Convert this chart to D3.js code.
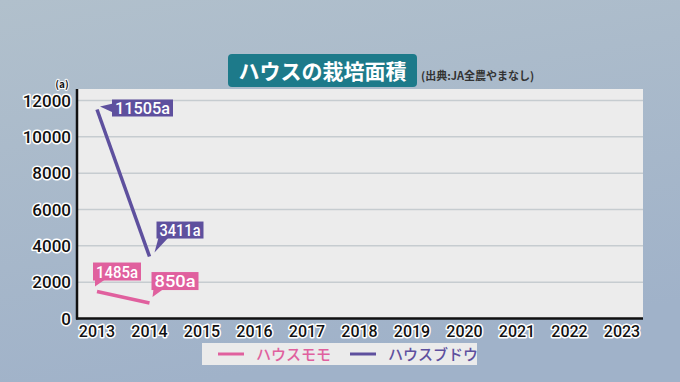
<!DOCTYPE html>
<html><head><meta charset="utf-8">
<script src="https://cdn.jsdelivr.net/npm/d3@7"></script>
<style>body{margin:0;overflow:hidden}svg{display:block}</style>
</head><body><svg id="c" width="680" height="382"></svg>
<script>
const years = [2013,2014,2015,2016,2017,2018,2019,2020,2021,2022,2023];
const yTicks = [0,2000,4000,6000,8000,10000,12000];
const momoYears = [2013,2014];
const momoValues = [1485,850];
const budouYears = [2013,2014];
const budouValues = [11505,3411];
const seriesNames = ["ハウスモモ","ハウスブドウ"];
const seriesColors = ["#e0609e","#5e509e"];
const title = "ハウスの栽培面積";
const source = "(出典:JA全農やまなし)";
const unit = "(a)";

const svg = d3.select("#c");
const defs = svg.append("defs");
const g1 = defs.append("linearGradient").attr("id","bg").attr("x1",0).attr("y1",0).attr("x2",0.3).attr("y2",1);
g1.append("stop").attr("offset","0%").attr("stop-color","#b1c0cc");
g1.append("stop").attr("offset","100%").attr("stop-color","#a0b2c9");
svg.append("rect").attr("width",680).attr("height",382).attr("fill","url(#bg)");

const L=77, R=643, T=89, B=318.5;
const x = d3.scalePoint().domain(years).range([97,622]);
const y = d3.scaleLinear().domain([0,12000]).range([B,100.5]);

svg.append("rect").attr("x",L).attr("y",T).attr("width",R-L).attr("height",B-T).attr("fill","#ececec");
svg.append("g").selectAll("line").data(yTicks.filter(d=>d>0)).join("line")
  .attr("x1",L).attr("x2",R).attr("y1",d=>y(d)).attr("y2",d=>y(d))
  .attr("stroke","#c6ccd0").attr("stroke-width",1.5);

svg.append("line").attr("x1",L).attr("x2",L).attr("y1",T).attr("y2",B+1).attr("stroke","#111").attr("stroke-width",2.5);
svg.append("line").attr("x1",L-1).attr("x2",R).attr("y1",B).attr("y2",B).attr("stroke","#111").attr("stroke-width",2.5);

const outlined = sel => sel.attr("fill","#111").attr("stroke","#fff").attr("stroke-width",3)
  .attr("paint-order","stroke").attr("stroke-linejoin","round");

svg.append("g").selectAll("text").data(yTicks).join("text")
  .attr("x",71).attr("y",d=>y(d)+6).attr("text-anchor","end")
  .attr("font-family","Roboto, 'Liberation Sans', sans-serif").attr("font-weight",500).attr("font-size",17)
  .text(d=>d).call(outlined);
svg.append("g").selectAll("text").data(years).join("text")
  .attr("x",d=>x(d)).attr("y",337).attr("text-anchor","middle")
  .attr("font-family","Roboto, 'Liberation Sans', sans-serif").attr("font-weight",500).attr("font-size",16)
  .text(d=>d).call(outlined);
svg.append("text").attr("x",62).attr("y",88).attr("text-anchor","middle")
  .attr("font-family","'Noto Sans CJK JP', sans-serif").attr("font-size",10).attr("font-weight","bold")
  .text(unit).call(outlined).attr("stroke-width",2);

svg.append("rect").attr("x",228).attr("y",54).attr("width",189).attr("height",33).attr("rx",4).attr("fill","#1d7a8a");
svg.append("text").attr("x",322.5).attr("y",78.5).attr("text-anchor","middle")
  .attr("font-family","'Noto Sans CJK JP', sans-serif").attr("font-weight","bold").attr("font-size",21)
  .attr("fill","#fff").text(title);
svg.append("text").attr("x",421).attr("y",80).attr("font-family","'Noto Sans CJK JP', sans-serif")
  .attr("font-weight","bold").attr("font-size",11).attr("fill","#333").text(source);

const series = [
  {name:seriesNames[0], color:seriesColors[0], pts: momoYears.map((yr,i)=>({yr, v:momoValues[i]}))},
  {name:seriesNames[1], color:seriesColors[1], pts: budouYears.map((yr,i)=>({yr, v:budouValues[i]}))}
];
const line = d3.line().x(d=>x(d.yr)).y(d=>y(d.v));
svg.append("g").selectAll("path").data(series).join("path")
  .attr("d",d=>line(d.pts)).attr("fill","none").attr("stroke",d=>d.color).attr("stroke-width",3.5);

function callout(px,py,color,text,type,bx,by,w,h){
  const g = svg.append("g");
  let tri;
  if(type==="left"){
    tri = [[px,py],[bx+1,by+4],[bx+1,by+h-4]];
  } else {
    tri = [[px,py],[bx+2,by+h-1],[bx+12,by+h-1]];
  }
  g.append("path").attr("d","M"+tri.map(p=>p.join(",")).join("L")+"Z").attr("fill",color);
  g.append("rect").attr("x",bx).attr("y",by).attr("width",w).attr("height",h).attr("fill",color);
  g.append("text").attr("x",bx+w/2).attr("y",by+h/2+6).attr("text-anchor","middle")
    .attr("font-family","Roboto, 'Liberation Sans', sans-serif").attr("font-weight",500).attr("font-size",16.5)
    .attr("textLength",w-6).attr("lengthAdjust","spacingAndGlyphs")
    .attr("fill","#fff").text(text);
}
const b = series[1].pts, m = series[0].pts;
callout(x(b[0].yr)+3, y(b[0].v)-3, seriesColors[1], b[0].v+"a","left", x(b[0].yr)+15, y(b[0].v)-10, 61, 17);
callout(x(b[1].yr)+5, y(b[1].v)-4, seriesColors[1], b[1].v+"a","down", x(b[1].yr)+7, y(b[1].v)-35, 47, 17);
callout(x(m[0].yr)-2, y(m[0].v)-5, seriesColors[0], m[0].v+"a","down", x(m[0].yr)-4, y(m[0].v)-29, 48, 18);
callout(x(m[1].yr)+3, y(m[1].v)-6, seriesColors[0], m[1].v+"a","down", x(m[1].yr)+2, y(m[1].v)-31, 47, 18);

svg.append("rect").attr("x",202).attr("y",343).attr("width",275).attr("height",22).attr("fill","#ebebeb");
const lg = [{c:seriesColors[0], n:seriesNames[0], x:218},{c:seriesColors[1], n:seriesNames[1], x:350}];
lg.forEach(d=>{
  svg.append("line").attr("x1",d.x).attr("x2",d.x+26).attr("y1",354).attr("y2",354).attr("stroke",d.c).attr("stroke-width",3);
  svg.append("text").attr("x",d.x+38).attr("y",360).attr("font-family","'Noto Sans CJK JP', sans-serif")
    .attr("font-weight",500).attr("font-size",15).attr("fill",d.c).text(d.n);
});
</script></body></html>
